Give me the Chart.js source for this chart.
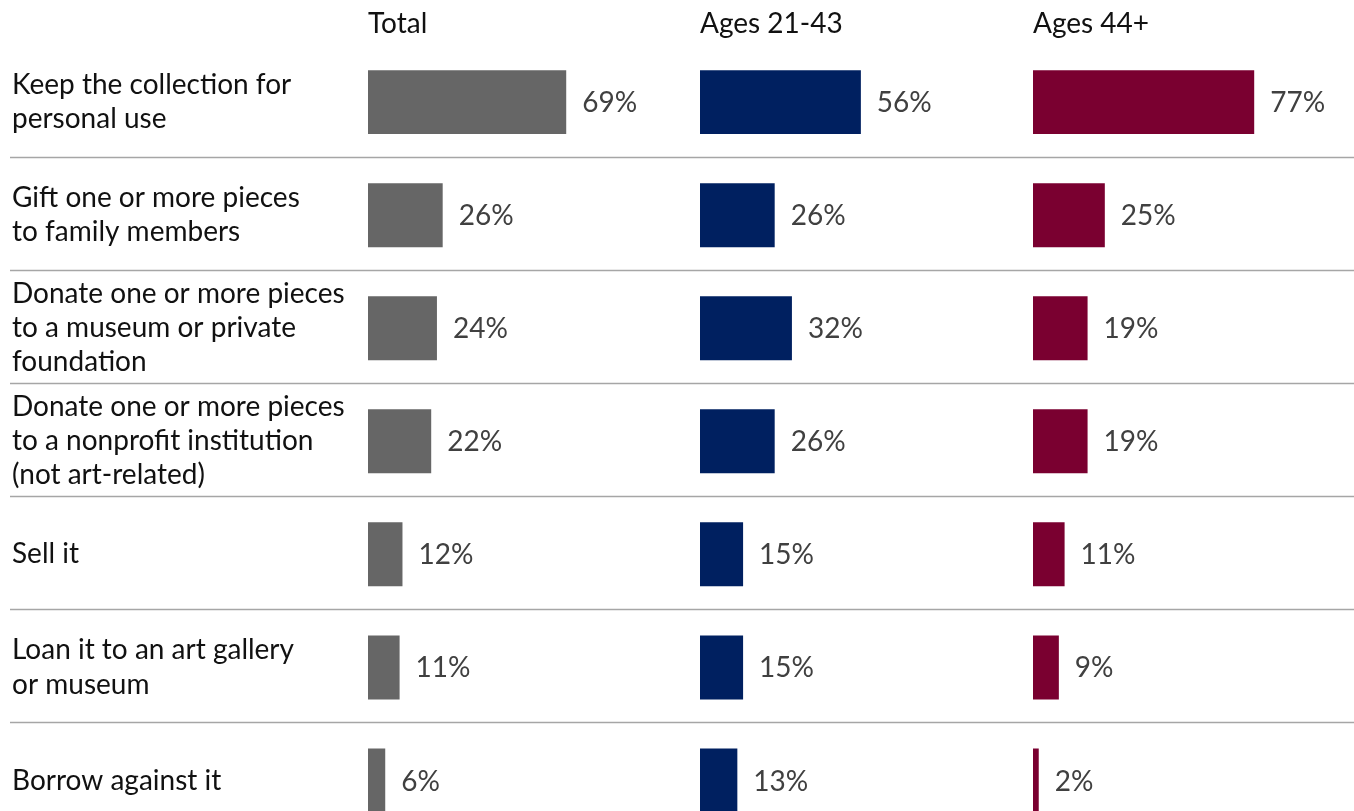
<!DOCTYPE html>
<html>
<head>
<meta charset="utf-8">
<script src="https://cdn.jsdelivr.net/npm/chart.js@4.4.1/dist/chart.umd.min.js"></script>
<style>
    html, body { margin: 0; padding: 0; background: #fff; overflow: hidden; }
    .panel { position: absolute; top: 0; height: 845px; }
    #panel-total { left: 0; width: 690px; }
    #panel-young { left: 690px; width: 333px; }
    #panel-old { left: 1023px; width: 331px; }
</style>
</head>
<body>
<div class="panel" id="panel-total"><canvas id="chart-total"></canvas></div>
<div class="panel" id="panel-young"><canvas id="chart-young"></canvas></div>
<div class="panel" id="panel-old"><canvas id="chart-old"></canvas></div>

<script>
// Row labels (multi-line)
const categories = [
    ["Keep the collection for", "personal use"],
    ["Gift one or more pieces", "to family members"],
    ["Donate one or more pieces", "to a museum or private", "foundation"],
    ["Donate one or more pieces", "to a nonprofit institution", "(not art-related)"],
    "Sell it",
    ["Loan it to an art gallery", "or museum"],
    "Borrow against it"
];

// Panel titles
const panelTitles = ["Total", "Ages 21-43", "Ages 44+"];

// Percentages per group
const totalValues = [69, 26, 24, 22, 12, 11, 6];
const youngValues = [56, 26, 32, 26, 15, 15, 13];
const oldValues = [77, 25, 19, 19, 11, 9, 2];

Chart.defaults.font.family = "Lato, 'Noto Sans', sans-serif";
Chart.defaults.font.size = 28;
Chart.defaults.color = "#111111";

// Draws the "NN%" text just past the end of each bar
const valueLabels = {
    id: 'valueLabels',
    afterDatasetsDraw(chart) {
        const ctx = chart.ctx;
        const meta = chart.getDatasetMeta(0);
        const values = chart.data.datasets[0].data;
        ctx.save();
        ctx.font = "28px Lato, 'Noto Sans', sans-serif";
        ctx.fillStyle = '#404040';
        ctx.textAlign = 'left';
        ctx.textBaseline = 'middle';
        meta.data.forEach((bar, i) => {
            ctx.fillText(values[i] + '%', bar.x + 16, bar.y + 1);
        });
        ctx.restore();
    }
};

// Horizontal separators between rows, running across the whole canvas
const rowSeparators = {
    id: 'rowSeparators',
    beforeDatasetsDraw(chart, args, opts) {
        const y = chart.scales.y;
        const ctx = chart.ctx;
        ctx.save();
        ctx.strokeStyle = '#a6a6a6';
        ctx.lineWidth = 1.5;
        for (let i = 0; i < chart.data.labels.length - 1; i++) {
            const yy = Math.round((y.getPixelForTick(i) + y.getPixelForTick(i + 1)) / 2) - 1.5;
            ctx.beginPath();
            ctx.moveTo(opts.start || 0, yy);
            ctx.lineTo(chart.width, yy);
            ctx.stroke();
        }
        ctx.restore();
    }
};

function makeChart(canvasId, title, values, color, showLabels, padding, lineStart) {
    const ctx = document.getElementById(canvasId).getContext('2d');
    return new Chart(ctx, {
        type: 'bar',
        data: {
            labels: categories,
            datasets: [{
                data: values,
                backgroundColor: color,
                barPercentage: 0.566,
                categoryPercentage: 1
            }]
        },
        options: {
            indexAxis: 'y',
            responsive: true,
            maintainAspectRatio: false,
            animation: false,
            layout: { padding: padding },
            scales: {
                x: {
                    display: false,
                    min: 0,
                    max: 110
                },
                y: {
                    display: showLabels,
                    grid: { display: false },
                    border: { display: false },
                    ticks: {
                        crossAlign: 'far',
                        color: '#111111',
                        font: { size: 28, lineHeight: 1.22 }
                    },
                    afterFit: function (scale) {
                        if (!showLabels) return;
                        scale.width = 356;
                        // keep the rows evenly spaced from the title down
                        scale.paddingTop = 0;
                        scale.paddingBottom = 0;
                    }
                }
            },
            plugins: {
                legend: { display: false },
                tooltip: { enabled: false },
                title: {
                    display: true,
                    text: title,
                    align: 'start',
                    fullSize: false,
                    color: '#111111',
                    font: { size: 28, weight: 'normal' },
                    padding: { top: 7, bottom: 5 }
                },
                rowSeparators: { start: lineStart }
            }
        },
        plugins: [rowSeparators, valueLabels]
    });
}

makeChart('chart-total', panelTitles[0], totalValues, '#666666', true,
    { left: 12, right: 6, top: 0, bottom: 8 }, 10);
makeChart('chart-young', panelTitles[1], youngValues, '#002060', false,
    { left: 10, right: 7, top: 0, bottom: 8 }, 0);
makeChart('chart-old', panelTitles[2], oldValues, '#7a0030', false,
    { left: 10, right: 5, top: 0, bottom: 8 }, 0);
</script>
</body>
</html>
